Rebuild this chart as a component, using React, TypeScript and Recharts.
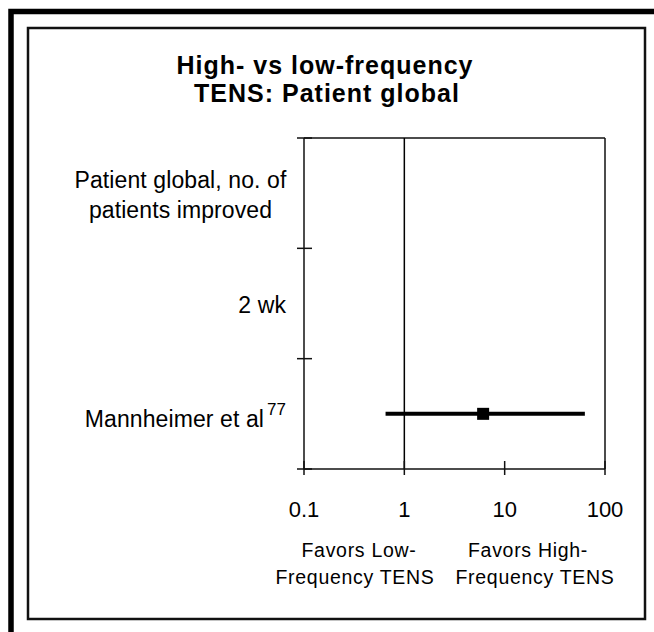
import React from "react";
import {
  ScatterChart, Scatter, XAxis, YAxis, ReferenceLine,
} from "recharts";

// forest plot rows, top to bottom (row i spans y = i..i+1)
const ROW_LABELS = [
  ["Patient global, no. of", "patients improved"],
  ["2 wk"],
  ["Mannheimer et al"],
];
const ROW_REFS = ["", "", "77"];
const ROW_TICKS = [0, 0.5, 1, 1.5, 2, 2.5, 3];

// odds ratio axis
const X_TICKS = [0.1, 1, 10, 100];
const X_DOMAIN = [0.1, 100];

// study estimates (odds ratio with 95% CI)
const STUDY_ROWS = [2.5];
const ESTIMATES = [6.1];
const CI_LOW = [0.65];
const CI_HIGH = [63];

const FONT = '"Liberation Sans", Arial, Helvetica, sans-serif';
const W = 654;
const H = 632;

const pointData = STUDY_ROWS.map((y, i) => ({ x: ESTIMATES[i], y }));
const ciData = STUDY_ROWS.map((y, i) => [
  { x: CI_LOW[i], y },
  { x: CI_HIGH[i], y },
]);

function RowTick(props: any) {
  const { x, y, payload } = props;
  const v = payload.value as number;
  if (Number.isInteger(v)) {
    return <line x1={x - 7} x2={x + 8} y1={y} y2={y} stroke="#111" strokeWidth={1.5} />;
  }
  const idx = Math.floor(v);
  const lines = ROW_LABELS[idx];
  const right = x - 18;
  const common = { fontFamily: FONT, fontSize: 23, letterSpacing: 0.1, fill: "#000" };
  if (lines.length > 1) {
    return (
      <g>
        {lines.map((l, i) => (
          <text key={i} x={right - 105.5} y={y - 5 + i * 30} textAnchor="middle" {...common}>{l}</text>
        ))}
      </g>
    );
  }
  const ref = ROW_REFS[idx];
  return (
    <text x={right} y={y + (ref ? 13 : 9)} textAnchor="end" {...common}>
      <tspan>{lines[0]}</tspan>
      {ref && <tspan dx={3} dy={-12} fontSize={17} letterSpacing={0}>{ref}</tspan>}
    </text>
  );
}

function OddsTick(props: any) {
  const { x, y, payload } = props;
  return (
    <g>
      <line x1={x} x2={x} y1={y - 8} y2={y + 6} stroke="#111" strokeWidth={1.5} />
      <text x={x} y={y + 48} textAnchor="middle" fontFamily={FONT} fontSize={22} fill="#000">
        {payload.value}
      </text>
    </g>
  );
}

function Square(props: any) {
  const { cx, cy } = props;
  return <rect x={cx - 6} y={cy - 6} width={12} height={12} fill="#000" />;
}

const Nothing = () => <g />;

export default function App() {
  return (
    <div style={{ position: "relative", width: W, height: H, background: "#fff", overflow: "hidden" }}>
      <style>{"body{margin:0}"}</style>
      <ScatterChart width={W} height={H} margin={{ top: 138, right: 49, left: 20, bottom: 103 }}>
        <XAxis
          type="number"
          dataKey="x"
          scale="log"
          domain={X_DOMAIN}
          ticks={X_TICKS}
          allowDataOverflow
          height={60}
          tickSize={0}
          tickMargin={0}
          tickLine={false}
          tick={<OddsTick />}
          axisLine={{ stroke: "#111", strokeWidth: 1.5 }}
        />
        <YAxis
          type="number"
          dataKey="y"
          domain={[0, 3]}
          reversed
          ticks={ROW_TICKS}
          interval={0}
          width={284}
          tickSize={0}
          tickMargin={0}
          tickLine={false}
          tick={<RowTick />}
          axisLine={{ stroke: "#111", strokeWidth: 1.5 }}
        />
        <ReferenceLine y={0} stroke="#111" strokeWidth={1.5} />
        <ReferenceLine x={100} stroke="#111" strokeWidth={1.5} />
        <ReferenceLine x={1} stroke="#000" strokeWidth={1.5} />
        {ciData.map((d, i) => (
          <Scatter
            key={i}
            data={d}
            line={{ stroke: "#000", strokeWidth: 4 }}
            shape={Nothing}
            isAnimationActive={false}
          />
        ))}
        <Scatter data={pointData} shape={Square} isAnimationActive={false} />
      </ScatterChart>
      <svg
        width={W}
        height={H}
        style={{ position: "absolute", left: 0, top: 0, pointerEvents: "none" }}
      >
        <rect x={11} y={11.5} width={1000} height={1000} fill="none" stroke="#000" strokeWidth={5.5} />
        <rect x={28} y={28} width={617} height={591} fill="none" stroke="#111" strokeWidth={2.5} />
        <g fontFamily={FONT} fontWeight="bold" fontSize={25} letterSpacing={1} textAnchor="middle" fill="#000">
          <text x={325} y={74}>High- vs low-frequency</text>
          <text x={327} y={102}>TENS: Patient global</text>
        </g>
        <g fontFamily={FONT} fontSize={19.5} letterSpacing={0.7} textAnchor="middle" fill="#000">
          <text x={359} y={557}>Favors Low-</text>
          <text x={355} y={584}>Frequency TENS</text>
          <text x={528} y={557}>Favors High-</text>
          <text x={535} y={584}>Frequency TENS</text>
        </g>
      </svg>
    </div>
  );
}
